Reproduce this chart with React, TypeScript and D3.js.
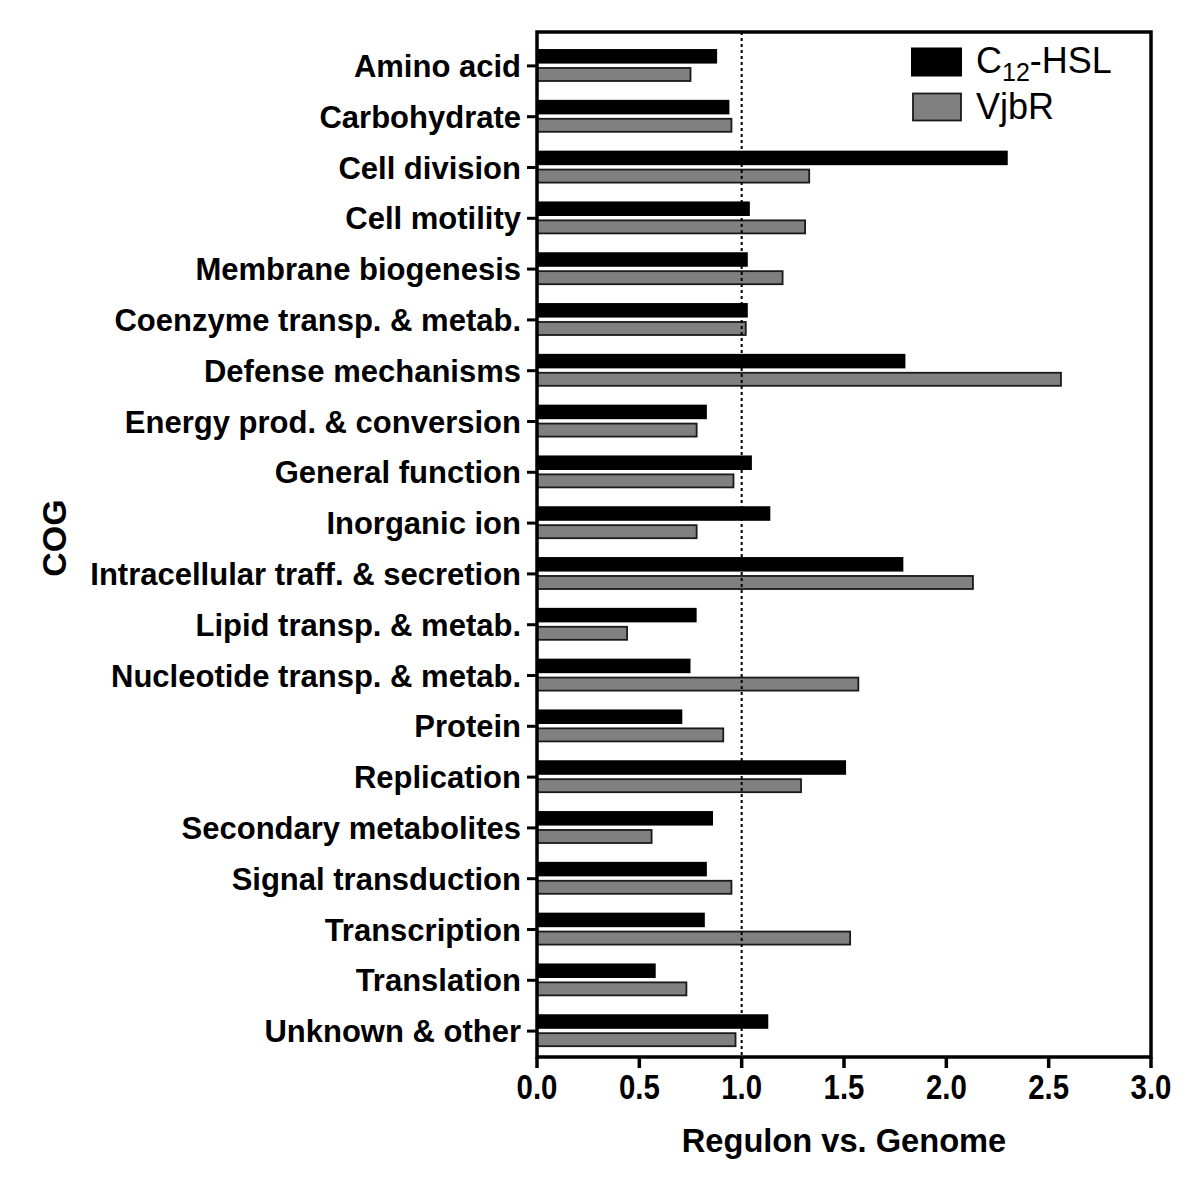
import React from "react";
import * as d3 from "d3";

const categories = [
  "Amino acid",
  "Carbohydrate",
  "Cell division",
  "Cell motility",
  "Membrane biogenesis",
  "Coenzyme transp. & metab.",
  "Defense mechanisms",
  "Energy prod. & conversion",
  "General function",
  "Inorganic ion",
  "Intracellular traff. & secretion",
  "Lipid transp. & metab.",
  "Nucleotide transp. & metab.",
  "Protein",
  "Replication",
  "Secondary metabolites",
  "Signal transduction",
  "Transcription",
  "Translation",
  "Unknown & other",
];

const c12HSL = [0.88, 0.94, 2.3, 1.04, 1.03, 1.03, 1.8, 0.83, 1.05, 1.14, 1.79, 0.78, 0.75, 0.71, 1.51, 0.86, 0.83, 0.82, 0.58, 1.13];
const vjbR = [0.75, 0.95, 1.33, 1.31, 1.2, 1.02, 2.56, 0.78, 0.96, 0.78, 2.13, 0.44, 1.57, 0.91, 1.29, 0.56, 0.95, 1.53, 0.73, 0.97];

const seriesNames = ["C12-HSL", "VjbR"];
const xTicks = [0, 0.5, 1.0, 1.5, 2.0, 2.5, 3.0];
const referenceValue = 1.0;

const W = 1200;
const H = 1197;
const left = 537;
const right = 1151;
const top = 32;
const bottom = 1057;

export default function App() {
  const x = d3.scaleLinear().domain([0, 3]).range([left, right]);
  const y = d3.scaleBand<string>().domain(categories).range([40, 1056]).padding(0);
  const groupH = 32.7;
  const yInner = d3.scaleBand<string>().domain(seriesNames).range([0, groupH]).paddingInner(0.2);
  const off = (y.bandwidth() - groupH) / 2;

  const labelFont = "'Liberation Sans', Arial, Helvetica, sans-serif";

  const fills = ["#000000", "#808080"];
  const values = [c12HSL, vjbR];

  return (
    <svg width={W} height={H} style={{ position: "absolute", left: 0, top: 0, background: "#fff" }}>
      <rect x={0} y={0} width={W} height={H} fill="#fff" />
      {/* bars */}
      {categories.map((c, i) => (
        <g key={c}>
          {seriesNames.map((s, k) => {
            const v = values[k][i];
            const by = (y(c) as number) + off + (yInner(s) as number);
            const bh = yInner.bandwidth();
            return k === 0 ? (
              <rect key={s} x={x(0)} y={by} width={x(v) - x(0)} height={bh} fill={fills[k]} />
            ) : (
              <rect key={s} x={x(0)} y={by + 0.75} width={x(v) - x(0)} height={bh - 1.5} fill={fills[k]} stroke="#1a1a1a" strokeWidth={1.8} />
            );
          })}
        </g>
      ))}
      {/* reference dotted line */}
      <line x1={x(referenceValue)} x2={x(referenceValue)} y1={top} y2={bottom} stroke="#000" strokeWidth={2} strokeDasharray="3,3" />
      {/* frame */}
      <rect x={left} y={top} width={right - left} height={bottom - top} fill="none" stroke="#000" strokeWidth={3.5} />
      {/* y ticks and labels */}
      {categories.map((c) => {
        const cy = (y(c) as number) + y.bandwidth() / 2 + 0.5;
        return (
          <g key={c}>
            <line x1={left - 10} x2={left} y1={cy} y2={cy} stroke="#000" strokeWidth={3} />
            <text x={521} y={cy} dy="0.36em" textAnchor="end" fontFamily={labelFont} fontWeight="bold" fontSize={31} fill="#000">
              {c}
            </text>
          </g>
        );
      })}
      {/* x ticks */}
      {xTicks.map((t) => (
        <g key={t}>
          <line x1={x(t)} x2={x(t)} y1={bottom} y2={bottom + 11} stroke="#000" strokeWidth={3.5} />
          <text transform={`translate(${x(t)},1099) scale(0.84,1)`} textAnchor="middle" fontFamily={labelFont} fontWeight="bold" fontSize={35} fill="#000">
            {d3.format(".1f")(t)}
          </text>
        </g>
      ))}
      {/* axis titles */}
      <text transform={`translate(${(left + right) / 2},1152) scale(0.96,1)`} textAnchor="middle" fontFamily={labelFont} fontWeight="bold" fontSize={34} fill="#000">
        Regulon vs. Genome
      </text>
      <text transform={`translate(66,538) rotate(-90)`} textAnchor="middle" fontFamily={labelFont} fontWeight="bold" fontSize={34} fill="#000">
        COG
      </text>
      {/* legend */}
      <rect x={911} y={47.5} width={51} height={29} fill="#000" />
      <text x={976} y={73} fontFamily={labelFont} fontSize={36} fill="#000">
        C<tspan fontSize={25} dy={8}>12</tspan><tspan dy={-8}>-HSL</tspan>
      </text>
      <rect x={913} y={93.5} width={48} height={27} fill="#808080" stroke="#1a1a1a" strokeWidth={1.8} />
      <text x={976} y={119} fontFamily={labelFont} fontSize={36} fill="#000">
        VjbR
      </text>
    </svg>
  );
}
